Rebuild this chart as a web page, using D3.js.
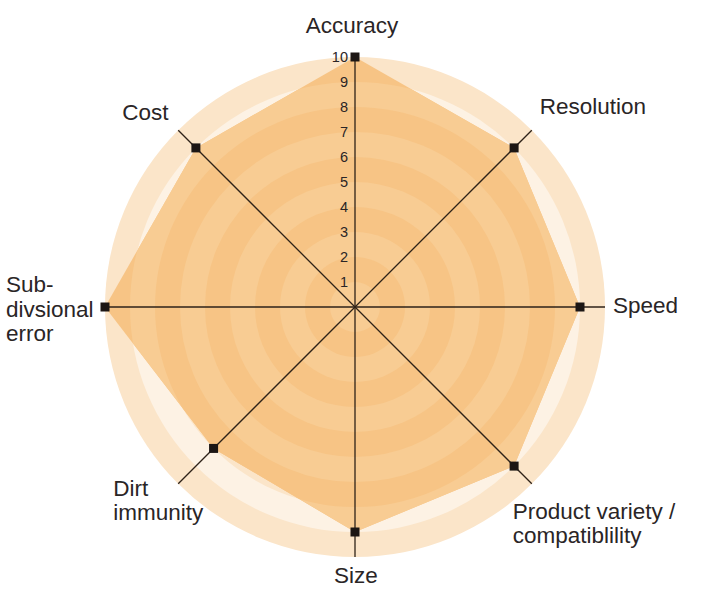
<!DOCTYPE html>
<html lang="en">
<head>
<meta charset="UTF-8"/>
<title>Radar chart</title>
<script src="https://d3js.org/d3.v7.min.js"></script>
<style>
    body { margin: 0; background: #fff; }
    text { font-family: "Liberation Sans", Arial, sans-serif; fill: #2a2526; }
</style>
</head>
<body>
<script>
// data
var categories = ["Accuracy", "Resolution", "Speed", "Product variety / compatiblility",
                  "Size", "Dirt immunity", "Sub- divsional error", "Cost"];
var labelLines = [["Accuracy"], ["Resolution"], ["Speed"], ["Product variety /", "compatiblility"],
                  ["Size"], ["Dirt", "immunity"], ["Sub-", "divsional", "error"], ["Cost"]];
var values = [10, 9, 9, 9, 9, 8, 10, 9];
var ticks = [1, 2, 3, 4, 5, 6, 7, 8, 9, 10];

var w = 707, h = 598;
var cx = 355, cy = 307;

var svg = d3.select("body").append("svg")
    .attr("width", w)
    .attr("height", h);

var g = svg.append("g").attr("transform", "translate(" + cx + "," + cy + ")");

var rScale = d3.scaleLinear().domain([0, 10]).range([0, 250]);
var aScale = d3.scaleLinear().domain([0, categories.length]).range([0, 2 * Math.PI]);

function pt(i, v) {
    var a = aScale(i);
    return [Math.sin(a) * rScale(v), -Math.cos(a) * rScale(v)];
}

// background rings (outer to inner)
var rings = ticks.slice().reverse();
var outside = ["#fbe5c9", "#fdf2e4"];
var inside = ["#f7c485", "#f8cc93"];

g.selectAll("circle.bg")
    .data(rings)
    .enter().append("circle")
    .attr("class", "bg")
    .attr("r", function(d){ return rScale(d); })
    .attr("fill", function(d){ return outside[(10 - d) % 2]; });

// polygon clip
var line = d3.line().curve(d3.curveLinearClosed);
var polyPts = values.map(function(v, i){ return pt(i, v); });

svg.append("defs").append("clipPath")
    .attr("id", "poly")
    .append("path")
    .attr("d", line(polyPts));

var inner = g.append("g").attr("clip-path", "url(#poly)");
inner.selectAll("circle")
    .data(rings)
    .enter().append("circle")
    .attr("r", function(d){ return rScale(d); })
    .attr("fill", function(d){ return inside[(10 - d) % 2]; });

// axes
g.selectAll("line.axis")
    .data(categories)
    .enter().append("line")
    .attr("class", "axis")
    .attr("x1", 0).attr("y1", 0)
    .attr("x2", function(d, i){ return pt(i, 10)[0]; })
    .attr("y2", function(d, i){ return pt(i, 10)[1]; })
    .attr("stroke", "#2e2218")
    .attr("stroke-width", 1.3);

// markers
g.selectAll("rect.marker")
    .data(values)
    .enter().append("rect")
    .attr("class", "marker")
    .attr("x", function(d, i){ return pt(i, d)[0] - 4.5; })
    .attr("y", function(d, i){ return pt(i, d)[1] - 4.5; })
    .attr("width", 9)
    .attr("height", 9)
    .attr("fill", "#1c1614");

// tick labels along the Accuracy axis
g.selectAll("text.tick")
    .data(ticks)
    .enter().append("text")
    .attr("class", "tick")
    .attr("x", -7)
    .attr("y", function(d){ return -rScale(d); })
    .attr("dy", "0.36em")
    .attr("text-anchor", "end")
    .style("font-size", "14.5px")
    .text(function(d){ return d; });

// category labels: anchor, offset from axis end
var labelPos = [
    {anchor: "middle", dx: -3, dy: -24},
    {anchor: "start", dx: 8, dy: -16},
    {anchor: "start", dx: 8, dy: 6},
    {anchor: "start", dx: -19, dy: 35},
    {anchor: "middle", dx: 1, dy: 26},
    {anchor: "start", dx: -65, dy: 12},
    {anchor: "start", dx: -99, dy: -15},
    {anchor: "start", dx: -56, dy: -10}
];

var labels = g.selectAll("text.cat")
    .data(labelLines)
    .enter().append("text")
    .attr("class", "cat")
    .attr("x", function(d, i){ return pt(i, 10)[0] + labelPos[i].dx; })
    .attr("y", function(d, i){ return pt(i, 10)[1] + labelPos[i].dy; })
    .attr("text-anchor", function(d, i){ return labelPos[i].anchor; })
    .style("font-size", "22.5px");

labels.selectAll("tspan")
    .data(function(d){ return d; })
    .enter().append("tspan")
    .attr("x", function(){ return d3.select(this.parentNode).attr("x"); })
    .attr("dy", function(d, j){ return j === 0 ? 0 : 24.5; })
    .text(function(d){ return d; });
</script>
</body>
</html>
